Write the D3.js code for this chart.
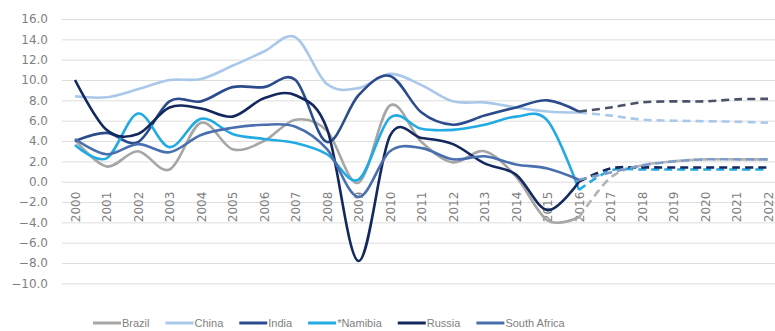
<!DOCTYPE html>
<html>
<head>
<meta charset="utf-8">
<script src="https://cdn.jsdelivr.net/npm/d3@7"></script>
<style>
  body { margin: 0; background: #fff; }
  svg { display: block; }
</style>
</head>
<body>
<svg id="chart" width="775" height="331"></svg>
<script>
// Real GDP growth (%), 2000–2016 actual, 2016–2022 projected
const years = ["2000","2001","2002","2003","2004","2005","2006","2007","2008","2009","2010",
               "2011","2012","2013","2014","2015","2016","2017","2018","2019","2020","2021","2022"];
const yTicks = [-10, -8, -6, -4, -2, 0, 2, 4, 6, 8, 10, 12, 14, 16];
const seriesNames = ["Brazil", "China", "India", "*Namibia", "Russia", "South Africa"];
const forecastFrom = "2016";

const brazil      = [4.1, 1.5, 3.0, 1.2, 5.8, 3.2, 4.0, 6.1, 5.0, -0.1, 7.5, 3.9, 1.9, 3.0, 0.5, -3.8, -3.5, 0.4, 1.6, 2.0, 2.2, 2.2, 2.2];
const china       = [8.4, 8.3, 9.1, 10.0, 10.1, 11.4, 12.8, 14.2, 9.6, 9.2, 10.6, 9.5, 7.9, 7.8, 7.3, 6.9, 6.8, 6.5, 6.1, 6.0, 5.95, 5.9, 5.8];
const india       = [4.0, 4.8, 3.9, 7.9, 7.9, 9.3, 9.3, 10.0, 3.9, 8.5, 10.4, 6.8, 5.6, 6.5, 7.3, 8.0, 6.9, 7.3, 7.8, 7.9, 7.9, 8.1, 8.15];
const namibia     = [3.6, 2.3, 6.7, 3.4, 6.2, 4.7, 4.2, 3.8, 2.7, 0.2, 6.3, 5.2, 5.1, 5.6, 6.4, 6.0, -0.8, 1.1, 1.2, 1.2, 1.2, 1.2, 1.2];
const russia      = [10.0, 5.1, 4.7, 7.3, 7.2, 6.4, 8.2, 8.5, 5.2, -7.8, 4.5, 4.3, 3.7, 1.8, 0.7, -2.8, 0.0, 1.3, 1.4, 1.4, 1.4, 1.4, 1.4];
const southAfrica = [4.2, 2.7, 3.7, 2.9, 4.6, 5.3, 5.6, 5.4, 3.2, -1.5, 3.0, 3.3, 2.2, 2.5, 1.7, 1.3, 0.2, 0.9, 1.6, 2.0, 2.2, 2.2, 2.2];

const seriesValues = [brazil, china, india, namibia, russia, southAfrica];
const colors       = ["#a6a6a6", "#a9c8ea", "#2b4c8c", "#22aae2", "#13285e", "#4a6fae"];
const dashColors   = ["#b3b3b3", "#a9c8ea", "#4a5268", "#22aae2", "#13285e", "#7d9cc9"];

const svg = d3.select("#chart");
const left = 62, right = 775;

const x = d3.scalePoint().domain(years).range([75, 768]);
const y = d3.scaleLinear().domain([-10, 16]).range([283.4, 19]);

// horizontal gridlines + value labels
const yAxis = svg.append("g")
  .attr("transform", `translate(${left},0)`)
  .call(d3.axisLeft(y).tickValues(yTicks).tickFormat(d3.format(".1f"))
        .tickSize(-(right - left)).tickPadding(14));
yAxis.select(".domain").remove();
yAxis.selectAll(".tick line").attr("stroke", "#dedede").attr("stroke-width", 1);
yAxis.selectAll(".tick text")
  .attr("fill", "#7f7f7f")
  .style("font-family", "DejaVu Sans, sans-serif")
  .style("font-size", "12px");

// year labels sitting under the zero line
const xAxis = svg.append("g")
  .attr("transform", `translate(0,${y(0)})`)
  .call(d3.axisBottom(x).tickSize(0));
xAxis.select(".domain").remove();
xAxis.selectAll(".tick text")
  .attr("x", -10).attr("y", 0).attr("dy", "0.35em")
  .attr("transform", "rotate(-90)")
  .style("text-anchor", "end")
  .attr("fill", "#7f7f7f")
  .style("font-family", "DejaVu Sans, sans-serif")
  .style("font-size", "12px");

// series lines: solid for actuals, dashed for projections
const line = d3.line()
  .x(d => x(d.year))
  .y(d => y(d.value))
  .curve(d3.curveCardinal.tension(0));

const splitIdx = years.indexOf(forecastFrom);
const lines = svg.append("g").attr("fill", "none").attr("stroke-linecap", "butt");

seriesValues.forEach((vals, i) => {
  const pts = vals.map((v, k) => ({ year: years[k], value: v }));
  lines.append("path")
    .attr("d", line(pts.slice(0, splitIdx + 1)))
    .attr("stroke", colors[i])
    .attr("stroke-width", 2.6);
});
seriesValues.forEach((vals, i) => {
  const pts = vals.map((v, k) => ({ year: years[k], value: v }));
  lines.append("path")
    .attr("d", line(pts.slice(splitIdx)))
    .attr("stroke", dashColors[i])
    .attr("stroke-width", 2.6)
    .attr("stroke-dasharray", "8,5");
});

// legend
const legend = svg.append("g").attr("transform", "translate(93,323)");
let lx = 0;
seriesNames.forEach((name, i) => {
  const g = legend.append("g").attr("transform", `translate(${lx},0)`);
  g.append("line").attr("x1", 0).attr("x2", 28).attr("y1", 0).attr("y2", 0)
    .attr("stroke", colors[i]).attr("stroke-width", 3);
  const t = g.append("text").attr("x", 29).attr("y", 0).attr("dy", "0.35em")
    .attr("fill", "#7f7f7f")
    .style("font-family", "Liberation Sans, Arial, sans-serif")
    .style("font-size", "11px")
    .text(name);
  lx += 29 + t.node().getComputedTextLength() + 16;
});
</script>
</body>
</html>
